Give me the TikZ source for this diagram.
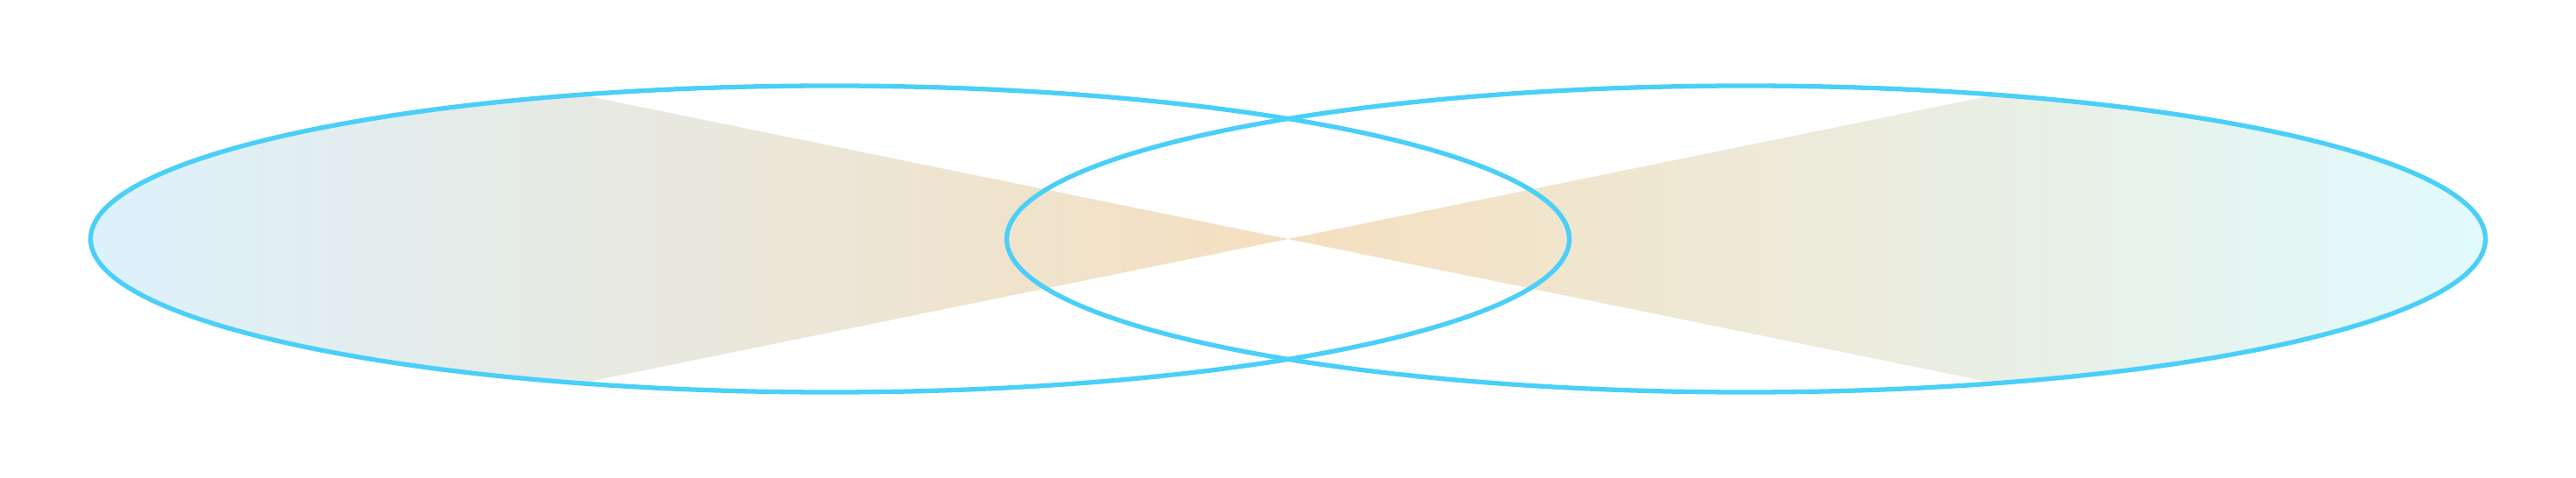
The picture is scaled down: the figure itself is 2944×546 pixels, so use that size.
\documentclass[tikz,border=0pt]{standalone}
\usepackage{tikz}
\usetikzlibrary{calc}

\definecolor{ringblue}{HTML}{4ACFF9}
\definecolor{leftblue}{HTML}{DDF1FC}
\definecolor{peach}{HTML}{F5DFBF}
\definecolor{rightcyan}{HTML}{E1FAFD}

\begin{document}
\begin{tikzpicture}[
    x=0.01cm, y=-0.01cm,
    ring/.style={draw=ringblue, line width=1.5pt},
    oval/.style={x radius=845, y radius=175}
]
    \useasboundingbox (0,0) rectangle (2944,546);
    \coordinate (mid) at (1472,273);
    \coordinate (lc) at (948.5,273);
    \coordinate (rc) at (1995.5,273);

    % Left wedge
    \begin{scope}
        \clip (lc) ellipse [oval];
        \shade[left color=leftblue, right color=peach] (mid) -- (104,-6) -- (104,552) -- cycle;
    \end{scope}

    % Right wedge
    \begin{scope}
        \clip (rc) ellipse [oval];
        \shade[left color=peach, right color=rightcyan] (mid) -- (2841,-6) -- (2841,552) -- cycle;
    \end{scope}

    % Rings
    \draw[ring] (lc) ellipse [oval];
    \draw[ring] (rc) ellipse [oval];
\end{tikzpicture}
\end{document}
